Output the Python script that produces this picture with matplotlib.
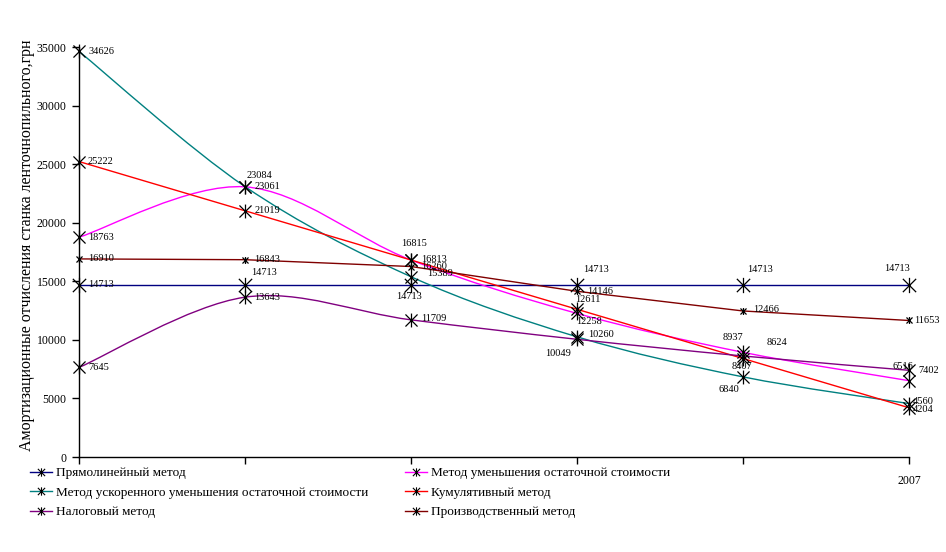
import matplotlib; matplotlib.use('Agg')
import matplotlib.pyplot as plt
from matplotlib.path import Path
from matplotlib.patches import PathPatch
from matplotlib.lines import Line2D

plt.rcParams['font.family'] = ['Liberation Serif', 'DejaVu Serif']

# --- данные ---
periods = ['', '', '', '', '', '2007']
straight = [14713, 14713, 14713, 14713, 14713, 14713]
reducing = [18763, 23061, 16813, 12258, 8937, 6516]
accelerated = [34626, 23084, 15389, 10260, 6840, 4560]
cumulative = [25222, 21019, 16815, 12611, 8407, 4204]
tax = [7645, 13643, 11709, 10049, 8624, 7402]
production = [16910, 16843, 16260, 14146, 12466, 11653]

names = ['Прямолинейный метод',
         'Метод уменьшения остаточной стоимости',
         'Метод ускоренного уменьшения остаточной стоимости',
         'Кумулятивный метод',
         'Налоговый метод',
         'Производственный метод']

# style per series: colour, smoothed?, marker size
styles = [('#000080', False, 11), ('#FF00FF', True, 10), ('#008080', True, 10),
          ('#FF0000', False, 10), ('#800080', True, 10), ('#800000', False, 5)]

# label offsets in pixels (dx, dy, ha) for each point
offsets = [
    [(9, 0, 'left'), (19, 12, 'center'), (-2, -12, 'center'), (19, 15, 'center'), (17, 15, 'center'), (-12, 16, 'center')],
    [(9, 0, 'left'), (10, 0, 'left'), (10, 1, 'left'), (-1, -8, 'left'), (-10, 15, 'center'), (-6, 14, 'center')],
    [(9, 0, 'left'), (14, 11, 'center'), (16, 3, 'left'), (11, 2, 'left'), (-14, -13, 'center'), (4, 2, 'left')],
    [(9, 0, 'left'), (10, 0, 'left'), (3, 17, 'center'), (11, 10, 'center'), (-1, -8, 'center'), (4, -2, 'left')],
    [(9, 0, 'left'), (9, 0, 'left'), (10, 1, 'left'), (-19, -14, 'center'), (34, 13, 'center'), (9, 0, 'left')],
    [(9, 0, 'left'), (9, 0, 'left'), (10, 0, 'left'), (10, 0, 'left'), (10, 1, 'left'), (5, 0, 'left')],
]

star = Path([(-1, -1), (1, 1), (-1, 1), (1, -1), (0, -1.15), (0, 1.15)],
            [Path.MOVETO, Path.LINETO, Path.MOVETO, Path.LINETO, Path.MOVETO, Path.LINETO])


def smooth_path(xs, ys):
    # Bezier through the points, like Excel's "smoothed line"
    pts = list(zip(xs, ys))
    verts, codes = [pts[0]], [Path.MOVETO]
    for i in range(len(pts) - 1):
        p0 = pts[max(i - 1, 0)]; p1 = pts[i]; p2 = pts[i + 1]; p3 = pts[min(i + 2, len(pts) - 1)]
        c1 = (p1[0] + (p2[0] - p0[0]) / 6, p1[1] + (p2[1] - p0[1]) / 6)
        c2 = (p2[0] - (p3[0] - p1[0]) / 6, p2[1] - (p3[1] - p1[1]) / 6)
        verts += [c1, c2, p2]; codes += [Path.CURVE4] * 3
    return Path(verts, codes)


W, H = 946, 552
fig = plt.figure(figsize=(W / 100, H / 100), dpi=100)
ax = fig.add_axes([79 / W, (H - 457) / H, (909 - 79) / W, (457 - 47) / H])

series = [straight, reducing, accelerated, cumulative, tax, production]
x = list(range(len(periods)))
handles = []
for vals, (col, smooth, ms), offs, name in zip(series, styles, offsets, names):
    if smooth:
        ax.add_patch(PathPatch(smooth_path(x, vals), fill=False, edgecolor=col, lw=1.0, zorder=2))
    else:
        ax.plot(x, vals, color=col, lw=1.0, zorder=2)
    ax.plot(x, vals, ls='none', marker=star, ms=ms, mec='black', mfc='none', mew=0.9,
            zorder=3, clip_on=False)
    for xi, v, (dx, dy, ha) in zip(x, vals, offs):
        ax.annotate(str(v), (xi, v), xytext=(dx, dy), textcoords='offset pixels',
                    ha=ha, va='center', fontsize=7.5, zorder=4)
    handles.append(Line2D([], [], color=col, lw=1.0, marker=star, ms=6, mec='black', mew=0.8))

ax.set_xlim(0, 5)
ax.set_ylim(0, 35000)
ax.set_yticks(range(0, 35001, 5000))
ax.set_xticks(x)
ax.set_xticklabels(periods)
for s in ('top', 'right'):
    ax.spines[s].set_visible(False)
for s in ('left', 'bottom'):
    ax.spines[s].set_linewidth(1.0)
ax.tick_params(direction='out', length=5, width=1.0, labelsize=8.5)
ax.tick_params(axis='x', pad=8)
ax.tick_params(axis='y', pad=4)
ax.set_ylabel('Амортизационные отчисления станка ленточнопильного,грн', fontsize=11.5)
ax.yaxis.set_label_coords(-44 / 830, 212 / 410)

leg_kw = dict(ncol=1, loc='upper left', frameon=False, fontsize=9.5, numpoints=1,
              handlelength=1.7, handletextpad=0.3, labelspacing=0.55, borderpad=0, borderaxespad=0)
fig.legend([handles[0], handles[2], handles[4]], [names[0], names[2], names[4]],
           bbox_to_anchor=(30 / W, 1 - 467 / H), **leg_kw)
fig.legend([handles[1], handles[3], handles[5]], [names[1], names[3], names[5]],
           bbox_to_anchor=(405 / W, 1 - 467 / H), **leg_kw)

fig.savefig('out.png', dpi=100)
